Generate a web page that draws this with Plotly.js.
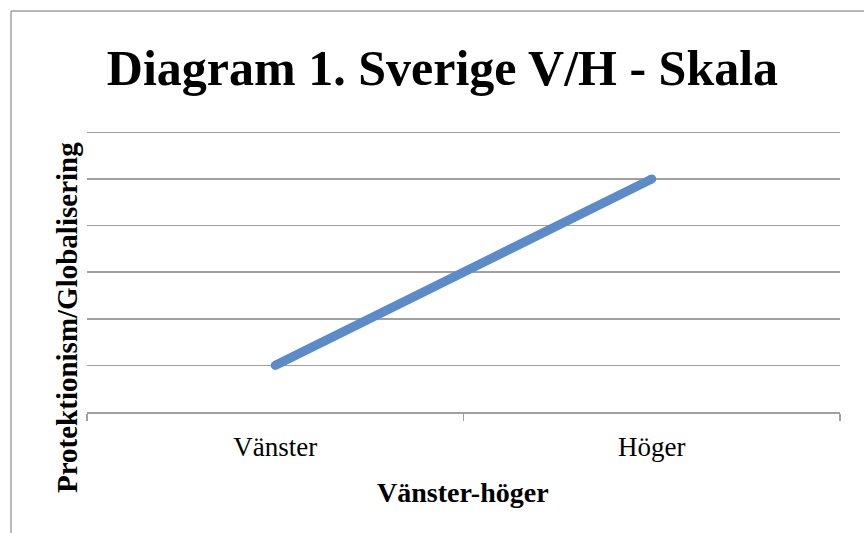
<!DOCTYPE html>
<html><head><meta charset="utf-8">
<script src="https://cdn.plot.ly/plotly-3.0.1.min.js"></script>
<style>html,body{margin:0;padding:0;background:#fff}#c{width:864px;height:533px}</style>
</head><body><div id="c"></div>
<script>
const categories = ["Vänster", "Höger"];
const values = [1, 5];
const chartTitle = "Diagram 1. Sverige V/H - Skala";
const xTitle = "Vänster-höger";
const yTitle = "Protektionism/Globalisering";

const W = 864, H = 533;
const m = {l: 87, r: 24, t: 130, b: 121};
const pw = W - m.l - m.r, ph = H - m.t - m.b;
const px = x => (x - m.l) / pw;
const py = y => (H - m.b - y) / ph;
const serif = "Liberation Serif, DejaVu Serif, serif";

const trace = {
  x: categories, y: values, type: "scatter", mode: "lines+markers",
  line: {color: "#5B8BC8", width: 9},
  marker: {color: "#5B8BC8", size: 9, line: {width: 0}},
  hoverinfo: "skip"
};

const layout = {
  width: W, height: H, margin: m,
  paper_bgcolor: "#fff", plot_bgcolor: "#fff",
  showlegend: false,
  title: {text: "<b>" + chartTitle + "</b>", font: {family: serif, size: 50, color: "#000"},
    x: px(442.5), xref: "paper", xanchor: "center", y: 1 - 67 / H, yref: "container", yanchor: "middle"},
  xaxis: {type: "category", range: [-0.5, 1.5], tickson: "boundaries",
    ticks: "outside", ticklen: 7, tickwidth: 1.5, tickcolor: "#a0a0a0",
    showline: true, linecolor: "#a0a0a0", linewidth: 1.5, showgrid: false,
    tickfont: {family: serif, size: 27, color: "#000"}, ticklabelstandoff: 10, zeroline: false},
  yaxis: {range: [0, 6.05], dtick: 1, showgrid: true, gridcolor: "#a0a0a0", gridwidth: 1.5,
    showticklabels: false, ticks: "", zeroline: false, showline: false},
  annotations: [
    {text: "<b>" + xTitle + "</b>", xref: "paper", yref: "paper", x: px(463), y: py(492),
      showarrow: false, xanchor: "center", yanchor: "middle", font: {family: serif, size: 28, color: "#000"}},
    {text: "<b>" + yTitle + "</b>", xref: "paper", yref: "paper", x: px(67), y: py(318),
      showarrow: false, xanchor: "center", yanchor: "middle", textangle: -90, font: {family: serif, size: 29, color: "#000"}}
  ],
  shapes: [
    {type: "line", xref: "paper", yref: "paper", x0: px(11), x1: px(11), y0: py(11), y1: py(540), line: {color: "#a0a0a0", width: 1.5}},
    {type: "line", xref: "paper", yref: "paper", x0: px(11), x1: px(870), y0: py(11), y1: py(11), line: {color: "#a0a0a0", width: 1.5}}
  ]
};
Plotly.newPlot("c", [trace], layout, {displayModeBar: false, staticPlot: true});
</script></body></html>
